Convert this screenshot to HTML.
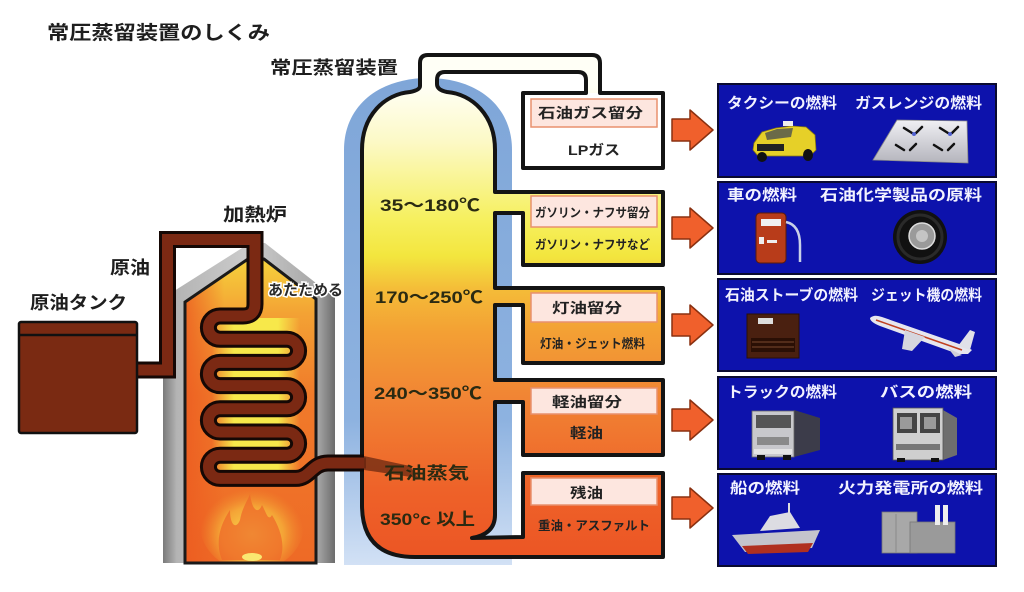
<!DOCTYPE html>
<html><head><meta charset="utf-8">
<style>
html,body{margin:0;padding:0;background:#fff;}
svg{display:block;}
text{font-family:"Liberation Sans","Noto Sans CJK JP",sans-serif;}
</style></head><body>
<svg width="1024" height="592" viewBox="0 0 1024 592" xmlns="http://www.w3.org/2000/svg">
<defs>
 <linearGradient id="colg" gradientUnits="userSpaceOnUse" x1="0" y1="85" x2="0" y2="560">
  <stop offset="0" stop-color="#fffff6"/>
  <stop offset="0.12" stop-color="#fcf9c6"/>
  <stop offset="0.28" stop-color="#f6f060"/>
  <stop offset="0.36" stop-color="#f3e63e"/>
  <stop offset="0.43" stop-color="#f4bc38"/>
  <stop offset="0.52" stop-color="#f3a034"/>
  <stop offset="0.66" stop-color="#f18434"/>
  <stop offset="0.85" stop-color="#ee6229"/>
  <stop offset="1" stop-color="#ec5524"/>
 </linearGradient>
 <linearGradient id="blug" x1="0" y1="0" x2="0" y2="1">
  <stop offset="0" stop-color="#7fa6d8"/>
  <stop offset="0.7" stop-color="#8db2e0"/>
  <stop offset="1" stop-color="#d2e1f5"/>
 </linearGradient>
 <linearGradient id="grayg" x1="0" y1="0" x2="1" y2="0">
  <stop offset="0" stop-color="#7a7a7a"/>
  <stop offset="0.08" stop-color="#b4b4b4"/>
  <stop offset="0.5" stop-color="#cccccc"/>
  <stop offset="0.9" stop-color="#a6a6a6"/>
  <stop offset="1" stop-color="#6c6c6c"/>
 </linearGradient>
 <linearGradient id="orgg" gradientUnits="userSpaceOnUse" x1="0" y1="259" x2="0" y2="563">
  <stop offset="0" stop-color="#f6d23c"/>
  <stop offset="0.18" stop-color="#f3a234"/>
  <stop offset="0.45" stop-color="#f07a2a"/>
  <stop offset="1" stop-color="#ee6a26"/>
 </linearGradient>
 <linearGradient id="orgh" x1="0" y1="0" x2="1" y2="0">
  <stop offset="0" stop-color="#ec5a20" stop-opacity="0.8"/>
  <stop offset="0.3" stop-color="#ec5a20" stop-opacity="0"/>
  <stop offset="1" stop-color="#ec5a20" stop-opacity="0"/>
 </linearGradient>
 <linearGradient id="yelg" x1="0" y1="0" x2="1" y2="0">
  <stop offset="0" stop-color="#f7e84a" stop-opacity="0"/>
  <stop offset="0.25" stop-color="#f7e84a" stop-opacity="1"/>
  <stop offset="0.75" stop-color="#f7e84a" stop-opacity="1"/>
  <stop offset="1" stop-color="#f7e84a" stop-opacity="0"/>
 </linearGradient>
 <radialGradient id="fire" cx="0.5" cy="0.6" r="0.5">
  <stop offset="0" stop-color="#f8e050"/>
  <stop offset="0.6" stop-color="#f6b23a" stop-opacity="0.8"/>
  <stop offset="1" stop-color="#f09030" stop-opacity="0"/>
 </radialGradient>
 <linearGradient id="plate" x1="0" y1="0" x2="0" y2="1">
  <stop offset="0" stop-color="#f0f0f4"/>
  <stop offset="1" stop-color="#b4b4bc"/>
 </linearGradient>
 <clipPath id="furn">
  <path d="M185,563 L185,302 L248,259 L264,259 L316,299 L316,563 Z"/>
 </clipPath>
</defs>

<rect width="1024" height="592" fill="#fff"/>

<!-- Titles -->
<text x="47" y="39" font-size="19" font-weight="bold" fill="#1e1e1e" textLength="223" lengthAdjust="spacingAndGlyphs">常圧蒸留装置のしくみ</text>
<text x="270" y="74" font-size="18" font-weight="bold" fill="#1e1e1e" textLength="128" lengthAdjust="spacingAndGlyphs">常圧蒸留装置</text>
<text x="223" y="221" font-size="18" font-weight="bold" fill="#1e1e1e" textLength="64" lengthAdjust="spacingAndGlyphs">加熱炉</text>
<text x="110" y="274" font-size="18" font-weight="bold" fill="#1e1e1e" textLength="40" lengthAdjust="spacingAndGlyphs">原油</text>
<text x="30" y="309" font-size="18" font-weight="bold" fill="#1e1e1e" textLength="97" lengthAdjust="spacingAndGlyphs">原油タンク</text>

<!-- Column blue shadow -->
<path d="M344,565 L344,150 C344,105 380,78 428,78 C476,78 512,105 512,150 L512,565 Z" fill="url(#blug)"/>

<!-- Column + boxes fill -->
<path d="M420,86 L420,63 Q420,55 428,55 L592,55 Q600,55 600,63 L600,93 L663,93 L663,168 L523,168 L523,93 L586,93 L586,80 Q586,72 578,72 L445,72 Q437,72 437,80 L437,84 Q437,90 447,92 C472,94 495,115 495,150 L495,192 L663,192 L663,265 L523,265 L523,213 L495,213 L495,288 L663,288 L663,363 L523,363 L523,305 L495,305 L495,380 L663,380 L663,455 L523,455 L523,402 L495,402 L495,515 Q495,534 472,538 L523,537 L523,473 L663,473 L663,557 L415,557 Q362,557 362,505 L362,150 C362,115 385,94 410,92 Q420,90 420,86 Z" fill="url(#colg)"/>
<rect x="523" y="93" width="140" height="75" fill="#fff"/>
<path d="M420,86 L420,63 Q420,55 428,55 L592,55 Q600,55 600,63 L600,93 L663,93 L663,168 L523,168 L523,93 L586,93 L586,80 Q586,72 578,72 L445,72 Q437,72 437,80 L437,84 Q437,90 447,92 C472,94 495,115 495,150 L495,192 L663,192 L663,265 L523,265 L523,213 L495,213 L495,288 L663,288 L663,363 L523,363 L523,305 L495,305 L495,380 L663,380 L663,455 L523,455 L523,402 L495,402 L495,515 Q495,534 472,538 L523,537 L523,473 L663,473 L663,557 L415,557 Q362,557 362,505 L362,150 C362,115 385,94 410,92 Q420,90 420,86 Z" fill="none" stroke="#141414" stroke-width="4" stroke-linejoin="round"/>

<!-- Box labels -->
<g fill="#fde6df" stroke="#e8906e" stroke-width="1.5">
 <rect x="531" y="99" width="126" height="28"/>
 <rect x="531" y="196" width="126" height="31"/>
 <rect x="531" y="293" width="126" height="29"/>
 <rect x="531" y="388" width="126" height="26"/>
 <rect x="531" y="478" width="126" height="27"/>
</g>
<g font-weight="bold" fill="#222">
 <text x="538" y="118" font-size="14" textLength="105" lengthAdjust="spacingAndGlyphs">石油ガス留分</text>
 <text x="568" y="155" font-size="14" textLength="52" lengthAdjust="spacingAndGlyphs">LPガス</text>
 <text x="535" y="217" font-size="12.5" textLength="115" lengthAdjust="spacingAndGlyphs">ガソリン・ナフサ留分</text>
 <text x="535" y="249" font-size="12.5" textLength="115" lengthAdjust="spacingAndGlyphs">ガソリン・ナフサなど</text>
 <text x="552" y="313" font-size="14" textLength="70" lengthAdjust="spacingAndGlyphs">灯油留分</text>
 <text x="540" y="348" font-size="12.5" textLength="105" lengthAdjust="spacingAndGlyphs">灯油・ジェット燃料</text>
 <text x="552" y="407" font-size="14" textLength="70" lengthAdjust="spacingAndGlyphs">軽油留分</text>
 <text x="570" y="438" font-size="14" textLength="33" lengthAdjust="spacingAndGlyphs">軽油</text>
 <text x="570" y="498" font-size="14" textLength="33" lengthAdjust="spacingAndGlyphs">残油</text>
 <text x="538" y="530" font-size="12.5" textLength="112" lengthAdjust="spacingAndGlyphs">重油・アスファルト</text>
</g>

<!-- Furnace -->
<path d="M163,563 L163,298 L250,243 L265,243 L335,298 L335,563 Z" fill="url(#grayg)"/>
<g clip-path="url(#furn)">
 <rect x="185" y="259" width="131" height="304" fill="url(#orgg)"/>
 <rect x="185" y="259" width="131" height="304" fill="url(#orgh)"/>
 <rect x="212" y="318" width="88" height="166" fill="url(#yelg)"/>
 <ellipse cx="252" cy="525" rx="52" ry="46" fill="url(#fire)"/>
 <path d="M222,560 C214,540 222,522 230,510 C230,525 236,530 240,520 C242,508 248,500 250,494 C252,510 258,515 262,505 C266,512 268,522 272,515 C280,528 286,545 280,560 Z" fill="#ee6a2a" opacity="0.75"/>
 <ellipse cx="252" cy="557" rx="10" ry="4" fill="#fae870"/>
</g>
<path d="M185,563 L185,302 L248,259 L264,259 L316,299 L316,563 Z" fill="none" stroke="#1a1a1a" stroke-width="3"/>

<!-- Pipe + coil -->
<path d="M137,370 L167.5,370 L167.5,239.5 L255,239.5 L255,304 Q255,316 243,316 L220,316 A11.6,11.6 0 0 0 220,339.2 L287,339.2 A11.6,11.6 0 0 1 287,362.4 L220,362.4 A11.6,11.6 0 0 0 220,385.6 L287,385.6 A11.6,11.6 0 0 1 287,408.8 L220,408.8 A11.6,11.6 0 0 0 220,432 L287,432 A11.6,11.6 0 0 1 287,455.2 L220,455.2 A11.6,11.6 0 0 0 220,478.4 L296,478.4 C310,478.4 312,463 328,463 L364,463" fill="none" stroke="#150805" stroke-width="17"/>
<path d="M137,370 L167.5,370 L167.5,239.5 L255,239.5 L255,304 Q255,316 243,316 L220,316 A11.6,11.6 0 0 0 220,339.2 L287,339.2 A11.6,11.6 0 0 1 287,362.4 L220,362.4 A11.6,11.6 0 0 0 220,385.6 L287,385.6 A11.6,11.6 0 0 1 287,408.8 L220,408.8 A11.6,11.6 0 0 0 220,432 L287,432 A11.6,11.6 0 0 1 287,455.2 L220,455.2 A11.6,11.6 0 0 0 220,478.4 L296,478.4 C310,478.4 312,463 328,463 L366,463" fill="none" stroke="#7b2913" stroke-width="11"/>
<path d="M364,456 L410,466 L418,478 L364,470 Z" fill="#6a2812" opacity="0.75"/>

<!-- Tank -->
<rect x="19" y="322" width="118" height="111" rx="2" fill="#7a2a12" stroke="#111" stroke-width="2.5"/>
<line x1="19" y1="335" x2="137" y2="335" stroke="#111" stroke-width="2.5"/>

<text x="268" y="295" font-size="15" font-weight="bold" fill="#2a2a2a" stroke="#fff" stroke-width="3" paint-order="stroke" textLength="75" lengthAdjust="spacingAndGlyphs">あたためる</text>

<!-- Column labels -->
<g font-weight="bold" fill="#2a2a12">
 <text x="380" y="211" font-size="17" textLength="100" lengthAdjust="spacingAndGlyphs">35～180℃</text>
 <text x="375" y="303" font-size="17" textLength="108" lengthAdjust="spacingAndGlyphs">170～250℃</text>
 <text x="374" y="399" font-size="17" textLength="108" lengthAdjust="spacingAndGlyphs">240～350℃</text>
 <text x="384" y="479" font-size="17" textLength="85" lengthAdjust="spacingAndGlyphs">石油蒸気</text>
 <text x="380" y="525" font-size="17" textLength="95" lengthAdjust="spacingAndGlyphs">350°c 以上</text>
</g>

<!-- Arrows -->
<g fill="#f0602c" stroke="#8a3010" stroke-width="1.5" stroke-linejoin="round">
 <path transform="translate(0,130)" d="M672,-11 L690,-11 L690,-20 L713,0 L690,20 L690,11 L672,11 Z"/>
 <path transform="translate(0,228)" d="M672,-11 L690,-11 L690,-20 L713,0 L690,20 L690,11 L672,11 Z"/>
 <path transform="translate(0,325)" d="M672,-11 L690,-11 L690,-20 L713,0 L690,20 L690,11 L672,11 Z"/>
 <path transform="translate(0,420)" d="M672,-11 L690,-11 L690,-20 L713,0 L690,20 L690,11 L672,11 Z"/>
 <path transform="translate(0,508)" d="M672,-11 L690,-11 L690,-20 L713,0 L690,20 L690,11 L672,11 Z"/>
</g>

<!-- Blue boxes -->
<g fill="#0d12ac" stroke="#0a0a30" stroke-width="2">
 <rect x="718" y="84" width="278" height="93"/>
 <rect x="718" y="182" width="278" height="92"/>
 <rect x="718" y="279" width="278" height="92"/>
 <rect x="718" y="377" width="278" height="92"/>
 <rect x="718" y="474" width="278" height="92"/>
</g>
<g font-weight="bold" fill="#f2f2ff" font-size="15">
 <text x="727" y="108" textLength="110" lengthAdjust="spacingAndGlyphs">タクシーの燃料</text>
 <text x="855" y="108" textLength="127" lengthAdjust="spacingAndGlyphs">ガスレンジの燃料</text>
 <text x="727" y="200" textLength="70" lengthAdjust="spacingAndGlyphs">車の燃料</text>
 <text x="820" y="200" textLength="162" lengthAdjust="spacingAndGlyphs">石油化学製品の原料</text>
 <text x="725" y="300" textLength="133" lengthAdjust="spacingAndGlyphs">石油ストーブの燃料</text>
 <text x="871" y="300" textLength="111" lengthAdjust="spacingAndGlyphs">ジェット機の燃料</text>
 <text x="727" y="397" textLength="110" lengthAdjust="spacingAndGlyphs">トラックの燃料</text>
 <text x="880" y="397" textLength="92" lengthAdjust="spacingAndGlyphs">バスの燃料</text>
 <text x="730" y="493" textLength="70" lengthAdjust="spacingAndGlyphs">船の燃料</text>
 <text x="838" y="493" textLength="145" lengthAdjust="spacingAndGlyphs">火力発電所の燃料</text>
</g>

<!-- Icons -->
<g>
 <path d="M754,143 L762,132 L776,128 L792,126 L806,127 L815,135 L816,150 L810,156 L758,156 L753,150 Z" fill="#e6d028" stroke="#8a7a10" stroke-width="0.8"/>
 <path d="M765,133 L777,129 L793,128 L791,137 L767,140 Z" fill="#6a6a48"/>
 <rect x="783" y="121" width="10" height="5" fill="#eee"/>
 <rect x="757" y="144" width="27" height="7" fill="#222"/>
 <ellipse cx="762" cy="157" rx="5" ry="5" fill="#111"/>
 <ellipse cx="808" cy="155" rx="5" ry="6" fill="#111"/>
</g>
<g>
 <path d="M897,120 L967,121 L968,163 L873,160 Z" fill="url(#plate)" stroke="#888" stroke-width="0.8"/>
 <g stroke="#111" stroke-width="2.5" stroke-linecap="round">
  <line x1="904" y1="128" x2="912" y2="133"/><line x1="922" y1="127" x2="916" y2="133"/>
  <line x1="940" y1="128" x2="948" y2="133"/><line x1="958" y1="127" x2="952" y2="133"/>
  <line x1="896" y1="145" x2="904" y2="150"/><line x1="916" y1="144" x2="910" y2="150"/>
  <line x1="934" y1="145" x2="942" y2="150"/><line x1="954" y1="144" x2="948" y2="150"/>
 </g>
 <circle cx="914" cy="134" r="2" fill="#5060d0"/><circle cx="950" cy="134" r="2" fill="#5060d0"/>
</g>
<g>
 <rect x="756" y="213" width="30" height="50" rx="4" fill="#b83c1a" stroke="#5a1a0a" stroke-width="1"/>
 <rect x="761" y="219" width="20" height="7" fill="#f0f0f0"/>
 <rect x="759" y="237" width="5" height="7" fill="#eee"/>
 <rect x="767" y="240" width="10" height="3" fill="#eee"/>
 <path d="M786,222 Q800,225 800,245 L800,262" fill="none" stroke="#c8d0e8" stroke-width="2.5"/>
</g>
<g>
 <circle cx="920" cy="237" r="27" fill="#111"/>
 <circle cx="920" cy="237" r="22" fill="none" stroke="#2a2a2a" stroke-width="3"/>
 <circle cx="922" cy="236" r="13" fill="#9a9a9a" stroke="#ddd" stroke-width="1.5"/>
 <circle cx="922" cy="236" r="6" fill="#c4c4c4"/>
</g>
<g>
 <rect x="747" y="314" width="52" height="44" fill="#4a2010" stroke="#2a1008"/>
 <rect x="758" y="318" width="15" height="6" fill="#ddd"/>
 <rect x="751" y="338" width="44" height="14" fill="#2a0f05"/>
 <line x1="752" y1="342" x2="794" y2="342" stroke="#7a4a30"/>
 <line x1="752" y1="347" x2="794" y2="347" stroke="#7a4a30"/>
</g>
<g>
 <path d="M870,318 Q874,314 882,317 L965,346 L972,350 L968,354 L958,354 L880,326 Q870,322 870,318 Z" fill="#e6e6ee"/>
 <line x1="876" y1="320" x2="962" y2="350" stroke="#c04020" stroke-width="1.5"/>
 <path d="M905,330 L925,337 L912,351 L902,349 Z" fill="#d6d6de"/>
 <path d="M958,346 L970,330 L975,332 L970,350 Z" fill="#e0e0e8"/>
 <path d="M948,348 L962,355 L955,357 Z" fill="#d0d0d8"/>
</g>
<g>
 <path d="M794,410 L820,418 L820,450 L794,457 Z" fill="#3c3c4a"/>
 <rect x="752" y="411" width="42" height="46" fill="#c8c8cc" stroke="#666" stroke-width="0.8"/>
 <rect x="756" y="415" width="35" height="13" fill="#555"/>
 <rect x="757" y="437" width="32" height="8" fill="#8a8a8a"/>
 <rect x="754" y="449" width="38" height="5" fill="#e4e4e4"/>
 <rect x="757" y="455" width="8" height="5" fill="#111"/>
 <rect x="783" y="455" width="8" height="5" fill="#111"/>
</g>
<g>
 <path d="M943,410 L957,418 L957,455 L943,460 Z" fill="#6e6e6e"/>
 <rect x="893" y="408" width="50" height="52" fill="#cfcfcf" stroke="#555" stroke-width="0.8"/>
 <rect x="897" y="413" width="20" height="20" fill="#444"/>
 <rect x="920" y="413" width="20" height="20" fill="#444"/>
 <rect x="900" y="417" width="12" height="12" fill="#9a9a9a"/>
 <rect x="924" y="417" width="12" height="12" fill="#9a9a9a"/>
 <rect x="896" y="444" width="44" height="6" fill="#777"/>
 <rect x="897" y="458" width="8" height="4" fill="#111"/><rect x="931" y="458" width="8" height="4" fill="#111"/>
</g>
<g>
 <path d="M760,531 L770,516 L790,512 L800,528 Z" fill="#dcdce2"/>
 <line x1="789" y1="503" x2="789" y2="514" stroke="#ddd" stroke-width="2"/>
 <path d="M732,535 L820,530 L812,548 L745,552 Z" fill="#c4c4cc"/>
 <path d="M742,546 L813,543 L808,552 L748,554 Z" fill="#b03020"/>
</g>
<g>
 <rect x="882" y="512" width="35" height="41" fill="#a8a8a8" stroke="#777" stroke-width="0.8"/>
 <rect x="910" y="522" width="45" height="31" fill="#9a9a9a" stroke="#777" stroke-width="0.8"/>
 <rect x="935" y="505" width="5" height="20" fill="#eee"/>
 <rect x="943" y="505" width="5" height="20" fill="#eee"/>
 <line x1="896" y1="514" x2="896" y2="553" stroke="#8a8a8a"/>
</g>
</svg>
</body></html>
